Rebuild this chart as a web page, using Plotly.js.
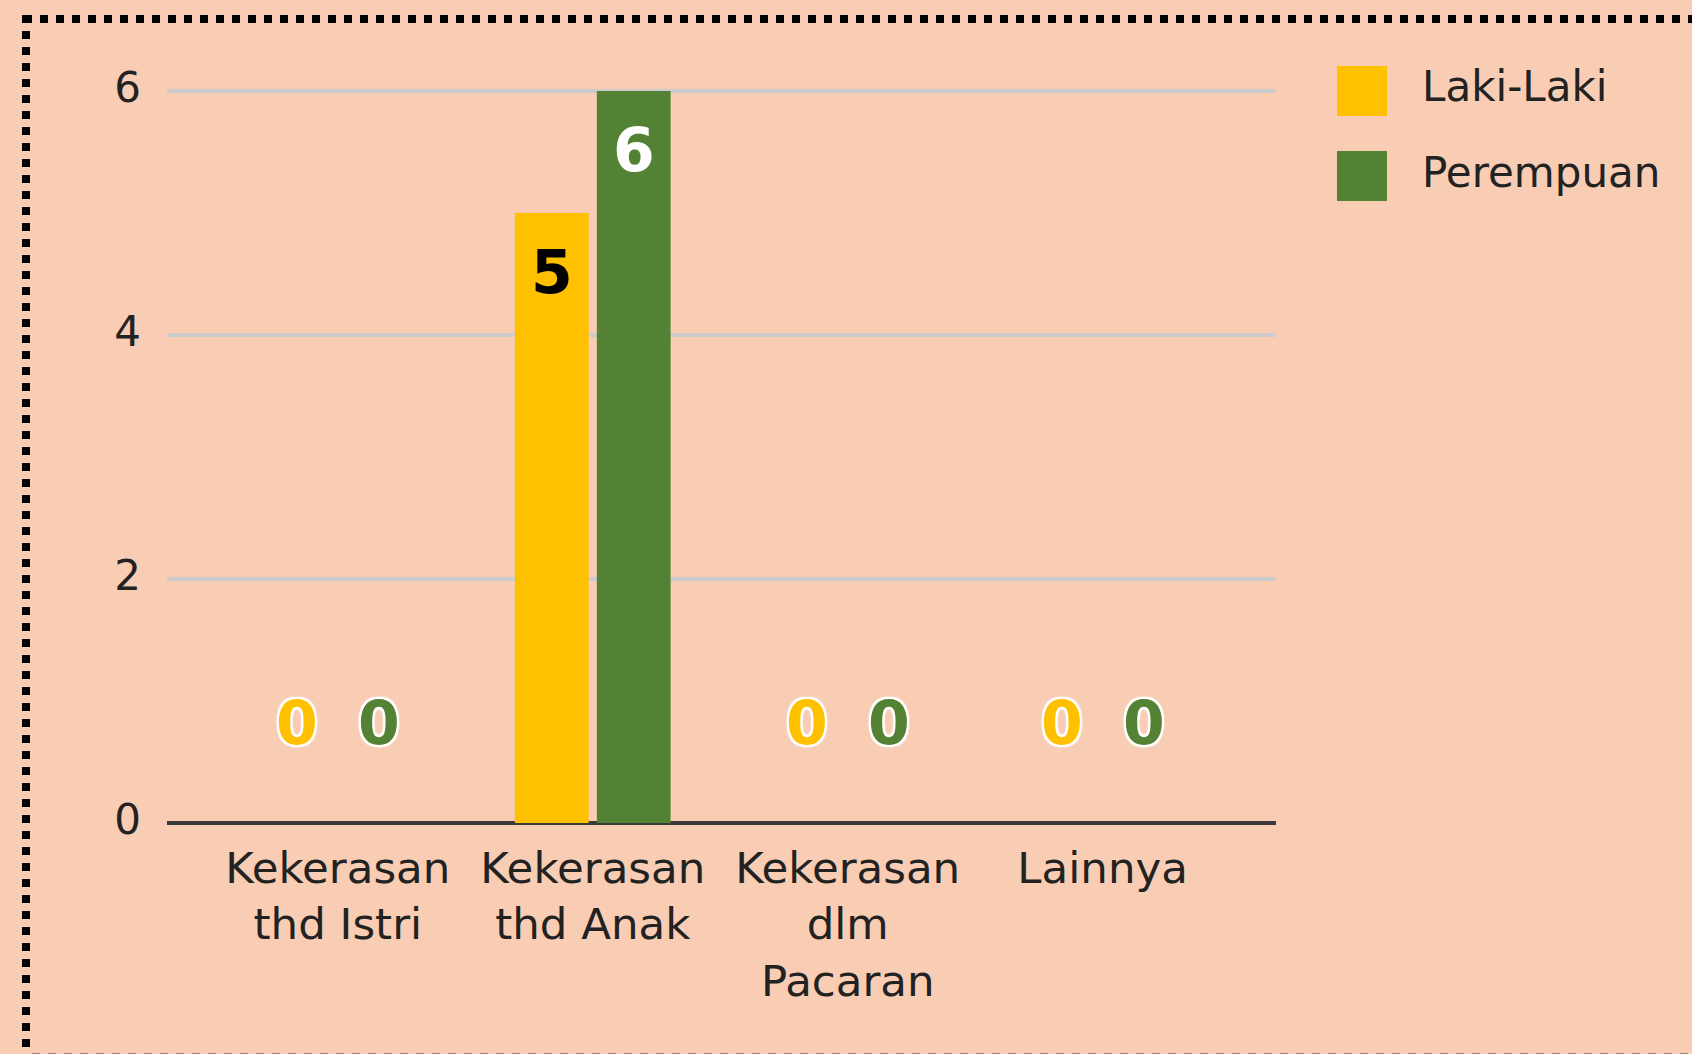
<!DOCTYPE html>
<html><head><meta charset="utf-8">
<script src="https://cdn.plot.ly/plotly-3.0.1.min.js"></script>
<style>html,body{margin:0;padding:0;background:#F8CDB4;overflow:hidden;} #chart{width:1692px;height:1054px;}</style>
</head><body><div id="chart"></div>
<script>
// ---- data ----
const categories = ['Kekerasan<br>thd Istri', 'Kekerasan<br>thd Anak', 'Kekerasan<br>dlm<br>Pacaran', 'Lainnya'];
const seriesNames = ['Laki-Laki', 'Perempuan'];
const lakiLaki = [0, 5, 0, 0];
const perempuan = [0, 6, 0, 0];
const yTickVals = [0, 2, 4, 6];

// ---- style ----
const FONT = 'DejaVu Sans';
const TEXT = '#222222';
const BG = '#F8CDB4';
const colors = ['#FFC000', '#548235'];
const insideLabelColors = ['#000000', '#FFFFFF'];
const BARGAP = 0.357, BARGROUPGAP = 0.1;
const W = 1692, H = 1054;
const M = {l: 167, r: 416, t: 89, b: 229};
const PW = W - M.l - M.r, PH = H - M.t - M.b;
const px = x => (x - M.l) / PW;
const py = y => (H - M.b - y) / PH;
const HALO = '2px 0 1px #fff, -2px 0 1px #fff, 0 2px 1px #fff, 0 -2px 1px #fff, ' +
             '2px 2px 1px #fff, -2px -2px 1px #fff, 2px -2px 1px #fff, -2px 2px 1px #fff, 0 0 4px #fff';

const series = [lakiLaki, perempuan];
const traces = series.map((vals, s) => ({
  type: 'bar', name: seriesNames[s], x: categories, y: vals,
  marker: {color: colors[s], line: {width: 0}},
  showlegend: false, hoverinfo: 'skip'
}));

// value labels
const slot = (1 - BARGAP) / 2;
const annotations = [];
series.forEach((vals, s) => {
  vals.forEach((v, i) => {
    const zero = v === 0;
    annotations.push({
      x: i + (s - 0.5) * slot, y: v, xref: 'x', yref: 'y',
      text: String(v), showarrow: false, xanchor: 'center', yanchor: 'middle',
      yshift: zero ? 100 : -59,
      font: {family: FONT, size: 60, weight: 'bold',
             color: zero ? colors[s] : insideLabelColors[s],
             shadow: zero ? HALO : 'none'}
    });
  });
});

// legend (drawn)
const shapes = [];
const legendY = [91, 176];
seriesNames.forEach((n, s) => {
  shapes.push({type: 'rect', xref: 'paper', yref: 'paper',
    x0: px(1337), x1: px(1387), y0: py(legendY[s] - 25), y1: py(legendY[s] + 25),
    fillcolor: colors[s], line: {width: 0}});
  annotations.push({xref: 'paper', yref: 'paper', x: px(1420), y: py(legendY[s] - 4),
    xanchor: 'left', yanchor: 'middle', showarrow: false, text: n,
    font: {family: FONT, size: 42, color: TEXT}});
});

// dotted frame
shapes.push({type: 'line', xref: 'paper', yref: 'paper', x0: px(24), x1: px(1700), y0: py(19), y1: py(19),
  line: {color: '#000', width: 8, dash: 'dot'}});
shapes.push({type: 'line', xref: 'paper', yref: 'paper', x0: px(26), x1: px(26), y0: py(15), y1: py(1060),
  line: {color: '#000', width: 8, dash: 'dot'}});
shapes.push({type: 'line', xref: 'paper', yref: 'paper', x0: px(32), x1: px(1700), y0: py(1053.5), y1: py(1053.5),
  line: {color: '#9C8473', width: 1, dash: '8px,8px'}});

const layout = {
  width: W, height: H, paper_bgcolor: BG, plot_bgcolor: BG,
  margin: {l: M.l, r: M.r, t: M.t, b: M.b, pad: 0},
  barmode: 'group', bargap: BARGAP, bargroupgap: BARGROUPGAP,
  showlegend: false,
  font: {family: FONT, color: TEXT},
  xaxis: {range: [-0.67, 3.68], showgrid: false, zeroline: false, showline: false, ticks: '',
    tickfont: {family: FONT, size: 43.5, color: TEXT}, ticklabelstandoff: 13, fixedrange: true},
  yaxis: {range: [-0.0164, 6.0164], tickvals: yTickVals, ticktext: yTickVals.map(String),
    showgrid: true, gridcolor: '#CCCCCC', gridwidth: 4,
    zeroline: true, zerolinecolor: '#3A3A3A', zerolinewidth: 4, showline: false, ticks: '',
    tickfont: {family: FONT, size: 42, color: TEXT}, ticklabelstandoff: 25, ticklabelshift: -4, fixedrange: true},
  shapes: shapes, annotations: annotations
};

Plotly.newPlot('chart', traces, layout, {displayModeBar: false, staticPlot: true});
</script>
</body></html>
